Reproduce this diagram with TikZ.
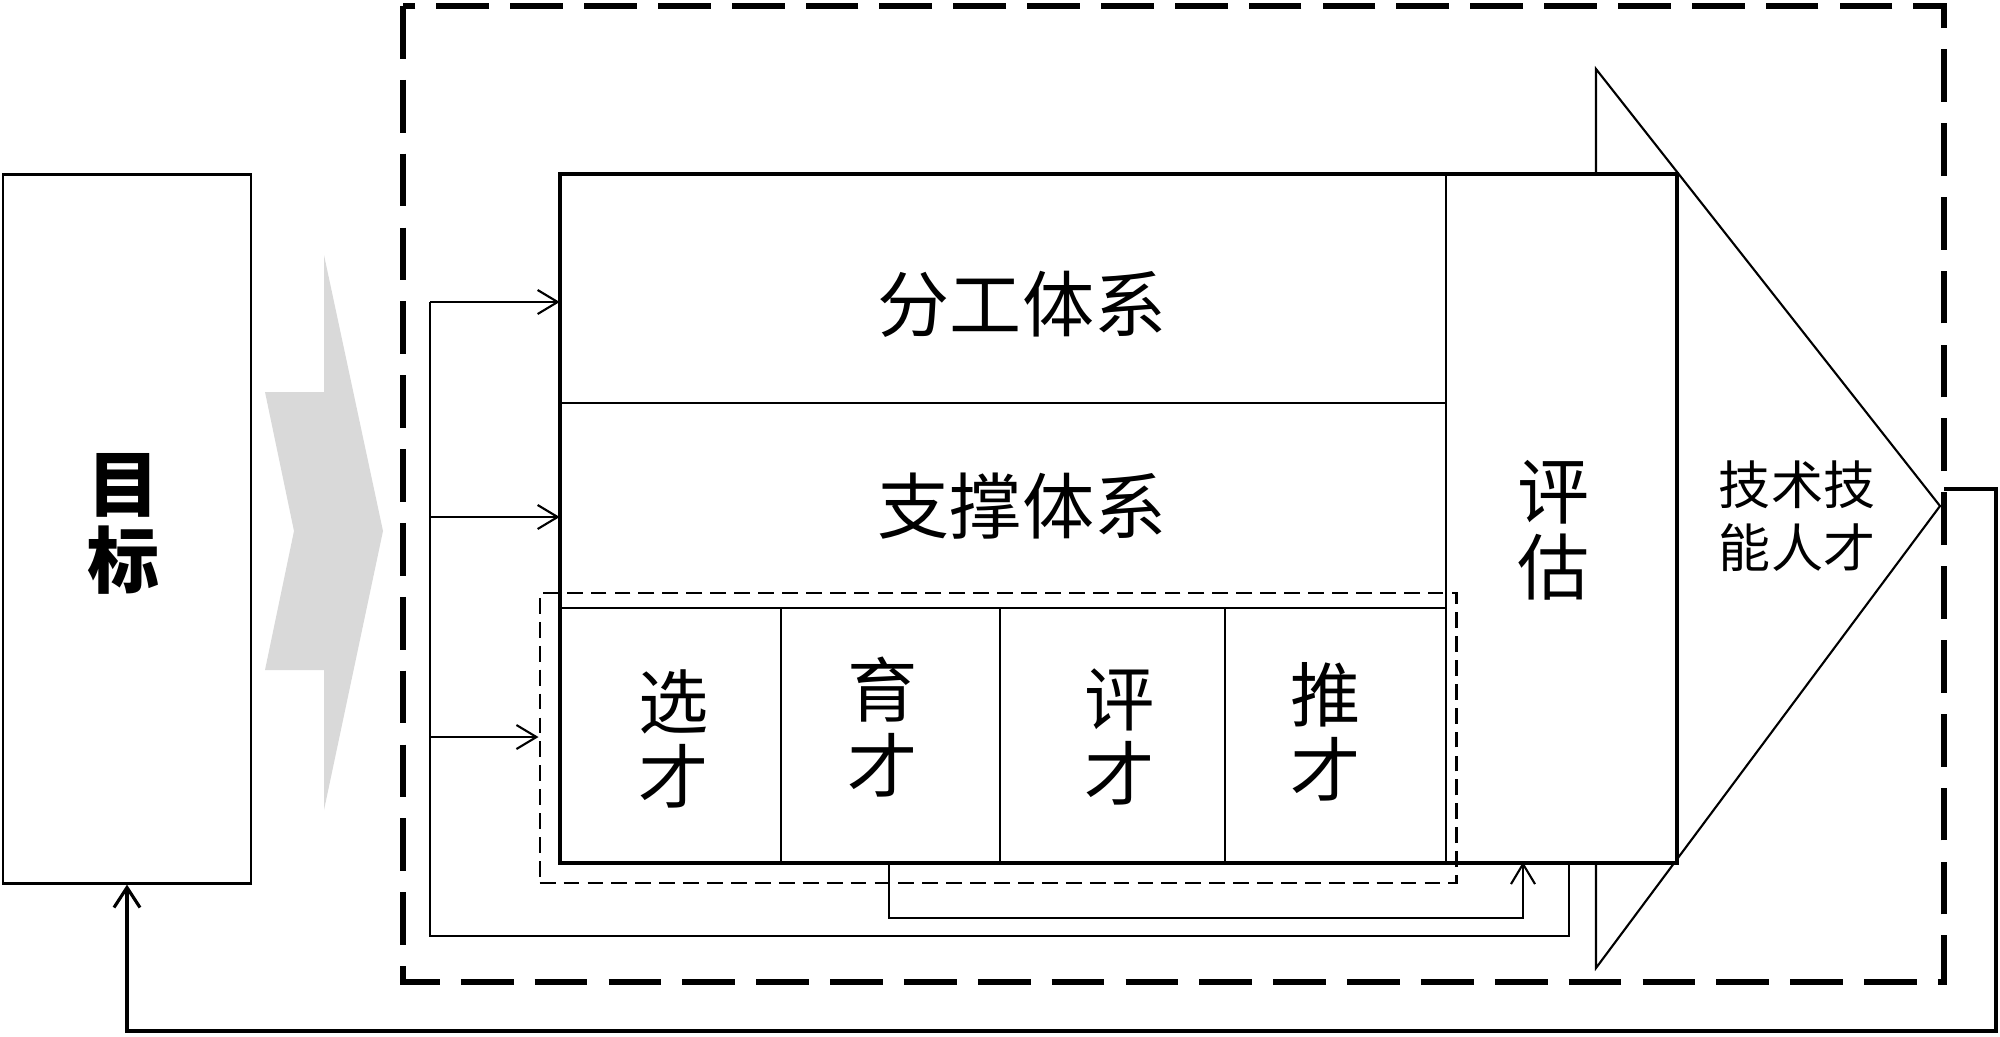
\documentclass[tikz,border=0pt]{standalone}
\usepackage{fontspec}
\newfontfamily\cjk{Noto Sans CJK SC}
\usetikzlibrary{arrows.meta}
\begin{document}
\begin{tikzpicture}[x=0.01cm,y=-0.01cm,
  box/.style={draw, line width=0.6pt, fill=white, inner sep=0pt, font=\cjk},
  bigtxt/.style={font=\cjk\fontsize{20.5pt}{21pt}\selectfont, align=center, inner sep=0pt},
  celltxt/.style={font=\cjk\fontsize{20pt}{21.5pt}\selectfont, align=center, inner sep=0pt},
  outerdash/.style={line width=1.7pt, dash pattern=on 15pt off 6pt},
  innerdash/.style={draw, line width=0.7pt, dash pattern=on 4.5pt off 2.3pt, inner sep=0pt},
  conn/.style={line width=0.6pt, -{Straight Barb[length=2mm,width=2.4mm]}},
  plain/.style={line width=0.6pt}
]
\useasboundingbox (0,0) rectangle (2000,1036);

% outer dashed frame
\draw[outerdash] (403,6) rectangle (1944,982);
\coordinate (fbstart) at (1944,489);

% goal box
\node[box, line width=0.8pt, minimum width=2.48cm, minimum height=7.08cm] (goal) at (127,529) {};
\node[bigtxt, font=\cjk\bfseries\fontsize{20.5pt}{21.5pt}\selectfont] (goaltxt) at (124,524) {目\\标};

% feedback line
\draw[line width=0.9pt, -{Straight Barb[length=2mm,width=2.6mm]}] (fbstart) -- (1996,489) -- (1996,1031) -- (goal.south |- 0,1031) -- (goal.south);

% grey chevron
\fill[gray!30] (324,255) -- (383,531) -- (324,810) -- (324,670) -- (265,670) -- (294,531) -- (265,392) -- (324,392) -- cycle;

% big output arrow (behind)
\draw[plain, fill=white] (1596,69) -- (1940,506) -- (1596,968) -- cycle;
\node[font=\cjk\fontsize{14.8pt}{18pt}\selectfont, align=center, inner sep=0pt] (talent) at (1797,516) {技术技\\能人才};

% main block
\node[box, minimum width=8.85cm, minimum height=2.28cm] (fengong) at (1003.5,289) {};
\node[bigtxt] (fengongtxt) at (1022,304) {分工体系};
\node[box, minimum width=8.85cm, minimum height=2.05cm] (zhicheng) at (1003.5,505.5) {};
\node[bigtxt] (zhichengtxt) at (1022,506) {支撑体系};
\node[box, minimum width=2.20cm, minimum height=2.54cm] (xuan) at (671,735) {};
\node[box, minimum width=2.19cm, minimum height=2.54cm] (yu) at (890.5,735) {};
\node[box, minimum width=2.25cm, minimum height=2.54cm] (ping) at (1112.5,735) {};
\node[box, minimum width=2.21cm, minimum height=2.54cm] (tui) at (1335.5,735) {};
\node[celltxt] (xuantxt) at (674,739) {选\\才};
\node[celltxt] (yutxt) at (883,727) {育\\才};
\node[celltxt] (pingtxt) at (1120,737) {评\\才};
\node[celltxt] (tuitxt) at (1326,732) {推\\才};
\node[box, minimum width=2.30cm, minimum height=6.87cm] (pinggu) at (1561,518.5) {};
\node[celltxt, font=\cjk\fontsize{20.5pt}{21.5pt}\selectfont] (pinggutxt) at (1554,530) {评\\估};
\draw[line width=0.9pt] (fengong.north west) rectangle (pinggu.south east);

% inner dashed frame
\node[innerdash, minimum width=9.16cm, minimum height=2.90cm] (group) at (998,738) {};

% left bus connectors
\coordinate (bus1) at (430,302);
\coordinate (bus2) at (430,517);
\coordinate (bus3) at (430,737);
\coordinate (busend) at (430,936);
\coordinate (pgin) at (1569,862);
\draw[conn] (bus1) -- (bus1 -| fengong.west);
\draw[conn] (bus2) -- (bus2 -| zhicheng.west);
\draw[conn] (bus3) -- (bus3 -| group.west);
\draw[plain] (bus1) -- (busend) -| (pgin);

% feedback from cultivation to evaluation
\coordinate (yub) at (889,862);
\coordinate (pga) at (1523,862);
\draw[conn] (yub) -- (889,918) -| (pga);
\end{tikzpicture}
\end{document}
